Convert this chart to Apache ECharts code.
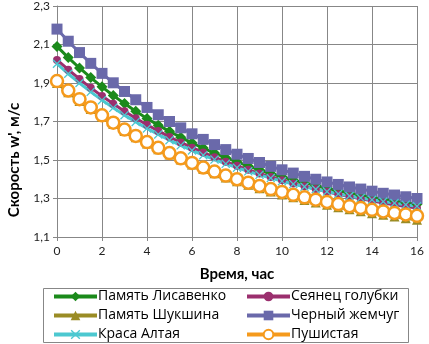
<!DOCTYPE html>
<html>
<head>
<meta charset="utf-8">
<script src="https://cdn.jsdelivr.net/npm/echarts@6/dist/echarts.min.js"></script>
<style>
  html, body { margin: 0; padding: 0; background: #fff; }
  #chart { width: 429px; height: 344px; }
</style>
</head>
<body>
<div id="chart"></div>
<script>
// время, часы (шаг 0,5 ч)
const hours = [0, 0.5, 1, 1.5, 2, 2.5, 3, 3.5, 4, 4.5, 5, 5.5, 6, 6.5, 7, 7.5, 8,
  8.5, 9, 9.5, 10, 10.5, 11, 11.5, 12, 12.5, 13, 13.5, 14, 14.5, 15, 15.5, 16]

const lisavenko = [2.090, 2.032, 1.978, 1.928, 1.880, 1.835, 1.793, 1.753, 1.716, 1.681, 1.649,
  1.618, 1.589, 1.562, 1.536, 1.512, 1.490, 1.469, 1.449, 1.430, 1.413, 1.396, 1.381,
  1.367, 1.353, 1.340, 1.328, 1.317, 1.306, 1.296, 1.287, 1.278, 1.270]
const seyanets = [2.020, 1.969, 1.921, 1.875, 1.832, 1.792, 1.753, 1.717, 1.683, 1.651, 1.620,
  1.591, 1.564, 1.539, 1.514, 1.491, 1.470, 1.449, 1.430, 1.412, 1.395, 1.378, 1.363,
  1.349, 1.335, 1.322, 1.310, 1.298, 1.288, 1.277, 1.268, 1.258, 1.250]
const shukshin = [1.900, 1.852, 1.807, 1.765, 1.725, 1.687, 1.651, 1.618, 1.586, 1.556, 1.528,
  1.502, 1.476, 1.453, 1.431, 1.409, 1.390, 1.371, 1.353, 1.337, 1.321, 1.306, 1.292,
  1.279, 1.267, 1.255, 1.244, 1.234, 1.224, 1.215, 1.206, 1.197, 1.190]
const zhemchug = [2.180, 2.117, 2.058, 2.002, 1.950, 1.901, 1.856, 1.813, 1.773, 1.735, 1.700,
  1.667, 1.636, 1.607, 1.580, 1.554, 1.530, 1.508, 1.487, 1.467, 1.449, 1.432, 1.415,
  1.400, 1.386, 1.373, 1.360, 1.349, 1.338, 1.327, 1.318, 1.309, 1.300]
const krasa = [2.000, 1.948, 1.900, 1.854, 1.811, 1.771, 1.733, 1.698, 1.664, 1.633, 1.603,
  1.576, 1.550, 1.525, 1.502, 1.480, 1.460, 1.441, 1.423, 1.406, 1.390, 1.375, 1.361,
  1.348, 1.336, 1.324, 1.313, 1.303, 1.293, 1.284, 1.276, 1.268, 1.260]
const pushistaya = [1.910, 1.861, 1.816, 1.773, 1.732, 1.694, 1.658, 1.625, 1.593, 1.563, 1.536,
  1.509, 1.485, 1.461, 1.440, 1.419, 1.400, 1.382, 1.365, 1.349, 1.334, 1.319, 1.306,
  1.294, 1.282, 1.271, 1.260, 1.251, 1.241, 1.233, 1.225, 1.217, 1.210]

const yMin = 1.1
const yMax = 2.3

const font = 'Lato, "Open Sans", sans-serif'
const gridColor = '#878787'
const xMark = 'path://M0,1L1,0L5,4L9,0L10,1L6,5L10,9L9,10L5,6L1,10L0,9L4,5Z'

const pairs = (vals) => hours.map((h, i) => [h, vals[i]])
const comma = (v, d) => v.toFixed(d).replace('.', ',')

const mkSeries = (name, vals, color, symbol, size, extra) => Object.assign({
  name,
  type: 'line',
  data: pairs(vals),
  symbol,
  symbolSize: size,
  showAllSymbol: true,
  lineStyle: { width: 3, color },
  itemStyle: { color },
  emphasis: { disabled: true },
  animation: false
}, extra || {})

const series = [
  mkSeries('Память Лисавенко', lisavenko, '#1b8a1b', 'diamond', 11),
  mkSeries('Сеянец голубки', seyanets, '#9b2f6e', 'circle', 8),
  mkSeries('Память Шукшина', shukshin, '#9a8c25', 'triangle', 10),
  mkSeries('Черный жемчуг', zhemchug, '#6a69aa', 'rect', 11),
  mkSeries('Краса Алтая', krasa, '#4cc8d0', xMark, 9),
  mkSeries('Пушистая', pushistaya, '#f59a1c', 'circle', 12, {
    itemStyle: { color: '#fff', borderColor: '#f59a1c', borderWidth: 2.5 }
  })
]

const chart = echarts.init(document.getElementById('chart'), null, { renderer: 'canvas' })

const legendBase = {
  orient: 'vertical',
  top: 288,
  itemWidth: 43,
  itemHeight: 12,
  itemGap: 2,
  padding: 0,
  selectedMode: false,
  lineStyle: { width: 4 },
  textStyle: { fontFamily: '"Open Sans", Lato, sans-serif', fontSize: 14, color: '#000', lineHeight: 17, padding: [0, 0, 0, -4] }
}

chart.setOption({
  animation: false,
  backgroundColor: '#fff',
  grid: { left: 57, right: 12, top: 4, bottom: 107 },
  xAxis: {
    type: 'value',
    min: 0,
    max: 16,
    interval: 2,
    name: 'Время, час',
    nameLocation: 'middle',
    nameGap: 30,
    nameTextStyle: { fontFamily: font, fontSize: 15, fontWeight: 'bold', color: '#000' },
    axisLine: { show: true, lineStyle: { color: gridColor } },
    axisTick: { show: true, inside: false, length: 4, lineStyle: { color: gridColor } },
    axisLabel: { fontFamily: font, fontSize: 12, color: '#222', margin: 8 },
    splitLine: { show: true, lineStyle: { color: gridColor, width: 1 } }
  },
  yAxis: [
    {
      type: 'value',
      min: yMin,
      max: yMax,
      show: false,
      splitLine: { show: false }
    },
    {
      // шкала подписей: 0..1,2 со смещением 1,1
      type: 'value',
      min: 0,
      max: +(yMax - yMin).toFixed(1),
      interval: 0.2,
      position: 'left',
      axisLine: { show: true, lineStyle: { color: gridColor } },
      axisTick: { show: true, inside: false, length: 4, lineStyle: { color: gridColor } },
      axisLabel: {
        fontFamily: font, fontSize: 12, color: '#222', margin: 7,
        formatter: (v) => comma(v + yMin, 1)
      },
      splitLine: { show: true, lineStyle: { color: gridColor, width: 1 } }
    }
  ],
  legend: [
    Object.assign({}, legendBase, {
      left: 52,
      data: ['Память Лисавенко', 'Память Шукшина', 'Краса Алтая']
    }),
    Object.assign({}, legendBase, {
      left: 245,
      data: ['Сеянец голубки', 'Черный жемчуг', 'Пушистая']
    })
  ],
  graphic: [
    {
      type: 'text',
      x: 14,
      y: 160,
      rotation: Math.PI / 2,
      silent: true,
      style: {
        text: "Скорость w', м/с",
        fontFamily: font, fontSize: 15, fontWeight: 'bold', fill: '#000',
        align: 'center', verticalAlign: 'middle'
      }
    },
    {
      type: 'rect',
      shape: { x: 43.5, y: 288.5, width: 365, height: 54 },
      style: { fill: 'none', stroke: '#878787', lineWidth: 1 },
      silent: true
    }
  ],
  series
})
</script>
</body>
</html>
